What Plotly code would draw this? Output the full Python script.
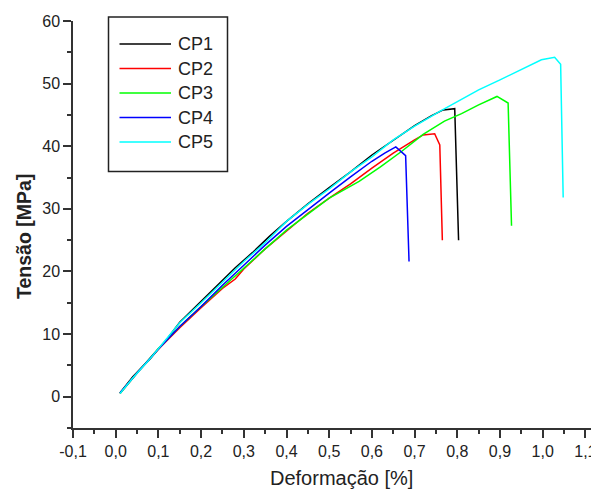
import plotly.graph_objects as go

# ---- data ----
names = ["CP1", "CP2", "CP3", "CP4", "CP5"]
colors = ["#000000", "#FF0000", "#00FF00", "#0000FF", "#00FFFF"]

cp1_x = [0.01, 0.04, 0.08, 0.12, 0.15, 0.18, 0.20, 0.24, 0.28, 0.32, 0.36, 0.40, 0.45, 0.50, 0.55, 0.60, 0.65, 0.70, 0.74, 0.767, 0.794, 0.803]
cp1_y = [0.6, 3.2, 6.0, 9.2, 11.9, 13.9, 15.2, 17.9, 20.6, 23.0, 25.6, 28.0, 30.8, 33.4, 35.9, 38.6, 41.0, 43.3, 44.9, 45.8, 46.0, 25.0]

cp2_x = [0.01, 0.05, 0.10, 0.15, 0.20, 0.25, 0.28, 0.30, 0.35, 0.40, 0.45, 0.50, 0.55, 0.60, 0.65, 0.70, 0.72, 0.747, 0.759, 0.765]
cp2_y = [0.5, 3.8, 7.6, 11.0, 14.2, 17.3, 18.8, 20.4, 23.6, 26.5, 29.3, 31.7, 34.0, 36.5, 38.9, 41.0, 41.8, 42.0, 40.2, 25.0]

cp3_x = [0.01, 0.05, 0.10, 0.15, 0.20, 0.25, 0.30, 0.35, 0.40, 0.44, 0.50, 0.57, 0.62, 0.67, 0.72, 0.77, 0.81, 0.85, 0.893, 0.919, 0.927]
cp3_y = [0.5, 3.8, 7.7, 11.2, 14.4, 17.5, 20.5, 23.6, 26.6, 28.7, 31.7, 34.4, 36.7, 39.2, 41.9, 44.0, 45.2, 46.6, 47.95, 46.9, 27.3]

cp4_x = [0.01, 0.05, 0.10, 0.15, 0.20, 0.25, 0.30, 0.35, 0.40, 0.45, 0.50, 0.55, 0.60, 0.63, 0.656, 0.679, 0.687]
cp4_y = [0.6, 3.8, 7.6, 11.2, 14.4, 17.8, 21.0, 24.2, 27.2, 29.9, 32.5, 35.1, 37.6, 38.9, 39.9, 38.5, 21.6]

cp5_x = [0.01, 0.04, 0.08, 0.12, 0.15, 0.20, 0.25, 0.30, 0.35, 0.40, 0.45, 0.50, 0.55, 0.60, 0.65, 0.70, 0.76, 0.80, 0.85, 0.90, 0.95, 0.997, 1.028, 1.042, 1.048]
cp5_y = [0.5, 3.0, 6.0, 9.4, 11.8, 15.0, 18.3, 21.6, 24.6, 28.0, 30.7, 33.2, 35.9, 38.3, 41.0, 43.2, 45.6, 47.1, 49.0, 50.6, 52.3, 53.8, 54.2, 53.1, 31.8]

series_x = [cp1_x, cp2_x, cp3_x, cp4_x, cp5_x]
series_y = [cp1_y, cp2_y, cp3_y, cp4_y, cp5_y]

x_tickvals = [-0.1, 0.0, 0.1, 0.2, 0.3, 0.4, 0.5, 0.6, 0.7, 0.8, 0.9, 1.0, 1.1]
x_ticktext = ["-0,1", "0,0", "0,1", "0,2", "0,3", "0,4", "0,5", "0,6", "0,7", "0,8", "0,9", "1,0", "1,1"]
y_tickvals = [0, 10, 20, 30, 40, 50, 60]
y_ticktext = ["0", "10", "20", "30", "40", "50", "60"]

x_title = "Deformação [%]"
y_title = "<b>Tensão [MPa]</b>"

FONT = "Arial, 'Liberation Sans', sans-serif"
AXC = "#333333"
TXT = "#222222"

# page is offset by the default 8px body margin
W, H = 591, 483
ML, MR, MT, MB = 65, 4, 13, 63
PW, PH = W - ML - MR, H - MT - MB


def px(xp):  # page x pixel -> paper x
    return (xp - 8 - ML) / PW


def py(yp):  # page y pixel -> paper y
    return (H - MB - (yp - 8)) / PH


fig = go.Figure()
for n, c, xs, ys in zip(names, colors, series_x, series_y):
    fig.add_trace(go.Scatter(x=xs, y=ys, mode="lines", name=n,
                             line=dict(color=c, width=1.5), showlegend=False))

# legend drawn as a framed box with sample lines and labels
shapes = [dict(type="rect", xref="paper", yref="paper",
               x0=px(108.5), x1=px(227.5), y0=py(171.5), y1=py(17),
               line=dict(color=TXT, width=1.5), fillcolor="rgba(0,0,0,0)")]
annotations = []
row_y = [44, 68.5, 93, 117.5, 142]
for n, c, ry in zip(names, colors, row_y):
    shapes.append(dict(type="line", xref="paper", yref="paper",
                       x0=px(119.5), x1=px(171), y0=py(ry), y1=py(ry),
                       line=dict(color=c, width=1.5)))
    annotations.append(dict(xref="paper", yref="paper", x=px(176), y=py(ry),
                            xanchor="left", yanchor="middle", showarrow=False,
                            text=n, font=dict(size=18, family=FONT, color=TXT)))

# axis titles
annotations.append(dict(xref="paper", yref="paper", x=px(341), y=py(478),
                        xanchor="center", yanchor="middle", showarrow=False,
                        text=x_title, font=dict(size=20, family=FONT, color=TXT)))
annotations.append(dict(xref="paper", yref="paper", x=px(24), y=py(237),
                        xanchor="center", yanchor="middle", showarrow=False, textangle=-90,
                        text=y_title, font=dict(size=19.5, family=FONT, color=TXT)))

fig.update_layout(
    width=W, height=H,
    margin=dict(l=ML, r=MR, t=MT, b=MB),
    paper_bgcolor="white", plot_bgcolor="white",
    font=dict(family=FONT, size=16, color=TXT),
    showlegend=False,
    shapes=shapes, annotations=annotations,
)

fig.update_xaxes(
    range=[-0.1, 1.1225], showgrid=False, zeroline=False,
    showline=True, linecolor=AXC, linewidth=1.5,
    ticks="outside", ticklen=8, tickwidth=1.5, tickcolor=AXC,
    tickmode="array", tickvals=x_tickvals, ticktext=x_ticktext,
    tickfont=dict(size=16, family=FONT, color=TXT),
    ticklabeloverflow="allow",
    minor=dict(ticks="outside", ticklen=4, tickwidth=1.5, tickcolor=AXC,
               tickmode="linear", tick0=-0.05, dtick=0.1),
    automargin=False,
)
fig.update_yaxes(
    range=[-5, 60], showgrid=False, zeroline=False,
    showline=True, linecolor=AXC, linewidth=1.5,
    ticks="outside", ticklen=8, tickwidth=1.5, tickcolor=AXC,
    tickmode="array", tickvals=y_tickvals, ticktext=y_ticktext,
    tickfont=dict(size=16, family=FONT, color=TXT),
    ticklabeloverflow="allow",
    minor=dict(ticks="outside", ticklen=4, tickwidth=1.5, tickcolor=AXC,
               tickmode="linear", tick0=-5, dtick=10),
    automargin=False,
)

fig.write_html("out.html")
